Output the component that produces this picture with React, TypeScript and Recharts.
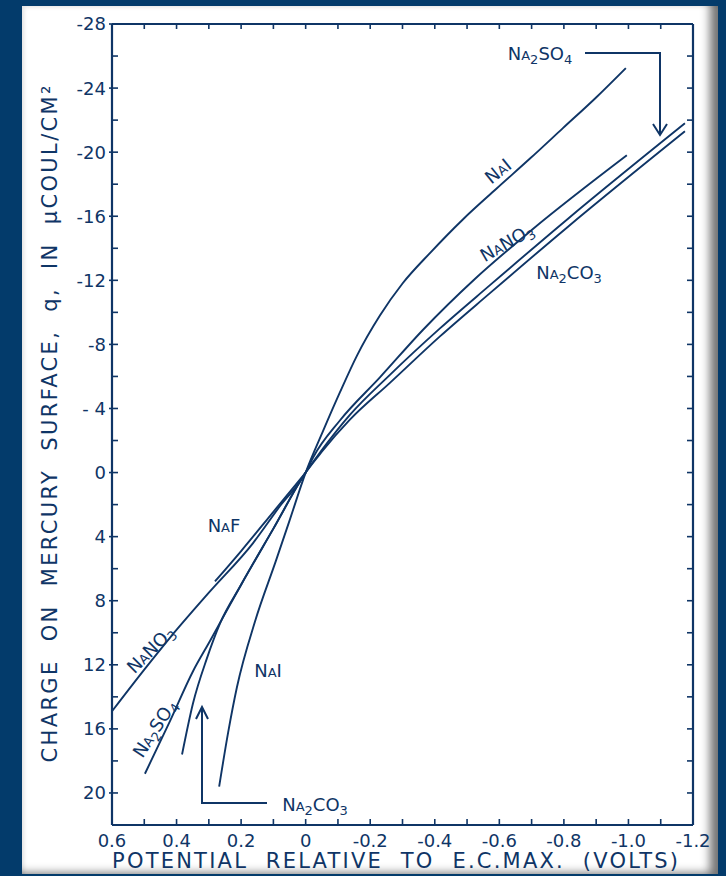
import { LineChart, Line, XAxis, YAxis } from 'recharts';

// potential (V vs e.c.max) and surface charge (µcoul/cm²)
const naI = [
  { v: 0.268, q: 19.6 }, { v: 0.24, q: 16.2 }, { v: 0.213, q: 13.4 }, { v: 0.157, q: 9.3 },
  { v: 0.092, q: 5.5 }, { v: 0.05, q: 3.0 }, { v: 0, q: 0 }, { v: -0.054, q: -2.6 },
  { v: -0.106, q: -5.0 }, { v: -0.159, q: -7.3 }, { v: -0.23, q: -9.8 }, { v: -0.3, q: -11.8 },
  { v: -0.385, q: -13.7 }, { v: -0.487, q: -15.8 }, { v: -0.59, q: -17.7 }, { v: -0.695, q: -19.6 },
  { v: -0.797, q: -21.5 }, { v: -0.899, q: -23.4 }, { v: -0.992, q: -25.25 },
];
const naNO3 = [
  { v: 0.6, q: 14.9 }, { v: 0.5, q: 12.3 }, { v: 0.42, q: 10.3 }, { v: 0.3, q: 7.5 },
  { v: 0.163, q: 4.4 }, { v: 0.08, q: 2.1 }, { v: 0, q: 0 }, { v: -0.023, q: -0.94 },
  { v: -0.106, q: -3.25 }, { v: -0.23, q: -5.94 }, { v: -0.363, q: -8.9 }, { v: -0.525, q: -12.1 },
  { v: -0.704, q: -15.2 }, { v: -0.995, q: -19.8 },
];
const na2SO4 = [
  { v: 0.498, q: 18.8 }, { v: 0.42, q: 15.5 }, { v: 0.349, q: 12.4 }, { v: 0.296, q: 10.5 },
  { v: 0.2, q: 7.0 }, { v: 0.1, q: 3.5 }, { v: 0, q: 0 }, { v: -0.05, q: -1.4 },
  { v: -0.137, q: -3.6 }, { v: -0.261, q: -6.1 }, { v: -0.416, q: -9.0 }, { v: -0.571, q: -11.7 },
  { v: -0.81, q: -15.8 }, { v: -1.175, q: -21.8 },
];
const na2CO3 = [
  { v: 0.383, q: 17.6 }, { v: 0.349, q: 14.4 }, { v: 0.306, q: 11.6 }, { v: 0.265, q: 9.4 },
  { v: 0.2, q: 7.0 }, { v: 0.1, q: 3.5 }, { v: 0, q: 0 }, { v: -0.05, q: -1.3 },
  { v: -0.137, q: -3.3 }, { v: -0.261, q: -5.6 }, { v: -0.416, q: -8.5 }, { v: -0.571, q: -11.2 },
  { v: -0.81, q: -15.3 }, { v: -1.175, q: -21.3 },
];
const naF = [
  { v: 0.281, q: 6.8 }, { v: 0.2, q: 4.9 }, { v: 0.1, q: 2.45 }, { v: 0, q: 0 },
];

const xTicks = [0.6, 0.5, 0.4, 0.3, 0.2, 0.1, 0, -0.1, -0.2, -0.3, -0.4, -0.5, -0.6, -0.7, -0.8, -0.9, -1.0, -1.1, -1.2];
const xLabelValues = [0.6, 0.4, 0.2, 0, -0.2, -0.4, -0.6, -0.8, -1.0, -1.2];
const xLabelTexts = ['0.6', '0.4', '0.2', '0', '-0.2', '-0.4', '-0.6', '-0.8', '-1.0', '-1.2'];

const yTicks = [-28, -26, -24, -22, -20, -18, -16, -14, -12, -10, -8, -6, -4, -2, 0, 2, 4, 6, 8, 10, 12, 14, 16, 18, 20];
const yLabelValues = [-28, -24, -20, -16, -12, -8, -4, 0, 4, 8, 12, 16, 20];
const yLabelTexts = ['-28', '-24', '-20', '-16', '-12', '-8', '- 4', '0', '4', '8', '12', '16', '20'];

const INK = '#0f3566';
const FONT = '"DejaVu Sans", sans-serif';

const findLabel = (values: number[], texts: string[], v: number) => {
  const i = values.findIndex((x) => Math.abs(x - v) < 1e-6);
  return i >= 0 ? texts[i] : null;
};

function BottomTick({ x, y, payload }: any) {
  const label = findLabel(xLabelValues, xLabelTexts, payload.value);
  return (
    <g>
      <line x1={x} x2={x} y1={y} y2={y - 6} stroke={INK} strokeWidth={1.6} />
      {label && (
        <text x={x} y={y + 22} textAnchor="middle" fontSize={18} fontFamily={FONT} fill={INK}>
          {label}
        </text>
      )}
    </g>
  );
}

function TopTick({ x, y }: any) {
  return <line x1={x} x2={x} y1={y} y2={y + 5} stroke={INK} strokeWidth={1.6} />;
}

function LeftTick({ x, y, payload }: any) {
  const label = findLabel(yLabelValues, yLabelTexts, payload.value);
  return (
    <g>
      <line x1={label ? x - 3 : x} x2={x + 6} y1={y} y2={y} stroke={INK} strokeWidth={1.6} />
      {label && (
        <text x={x - 6} y={y} dy="0.36em" textAnchor="end" fontSize={18} fontFamily={FONT} fill={INK}>
          {label}
        </text>
      )}
    </g>
  );
}

function RightTick({ x, y }: any) {
  return <line x1={x - 6} x2={x} y1={y} y2={y} stroke={INK} strokeWidth={1.6} />;
}

function Salt({ x, y, angle = 0, parts }: { x: number; y: number; angle?: number; parts: [string, 'b' | 's' | 'u'][] }) {
  return (
    <text transform={`translate(${x},${y}) rotate(${angle})`} textAnchor="middle" fontFamily={FONT} fill={INK}>
      {parts.map(([t, k], i) => (
        <tspan
          key={i}
          fontSize={k === 'b' ? 18 : 13}
          dy={k === 'u' ? 4 : i > 0 && parts[i - 1][1] === 'u' ? -4 : 0}
        >
          {t}
        </tspan>
      ))}
    </text>
  );
}

export default function App() {
  const lineProps = {
    type: 'monotone' as const,
    dataKey: 'q',
    stroke: INK,
    strokeWidth: 1.9,
    dot: false,
    isAnimationActive: false,
    xAxisId: 'b',
    yAxisId: 'l',
  };
  const axisLine = { stroke: INK, strokeWidth: 2.2 };
  return (
    <div style={{ position: 'fixed', left: 0, top: 0, width: 726, height: 876, background: '#033b6b', overflow: 'hidden' }}>
      <div
        style={{
          position: 'absolute', left: 22, top: 6, width: 696, height: 868, background: '#ffffff',
          boxShadow: 'inset -14px -7px 10px -6px rgba(0,0,0,0.55), inset 4px 3px 4px -2px rgba(0,0,0,0.12)',
        }}
      />
      <div style={{ position: 'absolute', left: 0, top: 0 }}>
        <LineChart width={726} height={876} margin={{ top: 23, right: 32, bottom: 50, left: 111 }}>
          <XAxis
            xAxisId="b" dataKey="v" type="number" domain={[-1.2, 0.6]} reversed allowDataOverflow
            ticks={xTicks} interval={0} height={1} tickSize={0} tickMargin={0} tick={<BottomTick />}
            axisLine={axisLine} tickLine={false}
          />
          <XAxis
            xAxisId="t" orientation="top" dataKey="v" type="number" domain={[-1.2, 0.6]} reversed allowDataOverflow
            ticks={xTicks} interval={0} height={1} tickSize={0} tickMargin={0} tick={<TopTick />}
            axisLine={axisLine} tickLine={false}
          />
          <YAxis
            yAxisId="l" type="number" domain={[-28, 22]} reversed allowDataOverflow
            ticks={yTicks} interval={0} width={1} tickSize={0} tickMargin={0} tick={<LeftTick />}
            axisLine={axisLine} tickLine={false}
          />
          <YAxis
            yAxisId="r" orientation="right" type="number" domain={[-28, 22]} reversed allowDataOverflow
            ticks={yTicks} interval={0} width={1} tickSize={0} tickMargin={0} tick={<RightTick />}
            axisLine={axisLine} tickLine={false}
          />
          <Line {...lineProps} data={naI} name="NaI" />
          <Line {...lineProps} data={naNO3} name="NaNO3" />
          <Line {...lineProps} data={na2SO4} name="Na2SO4" />
          <Line {...lineProps} data={na2CO3} name="Na2CO3" />
          <Line {...lineProps} data={naF} name="NaF" />
        </LineChart>
      </div>
      <svg width={726} height={876} style={{ position: 'absolute', left: 0, top: 0, pointerEvents: 'none' }}>
        <text
          transform="translate(57,424) rotate(-90)" textAnchor="middle" textLength={677} lengthAdjust="spacing"
          fontSize={21} fontFamily={FONT} fill={INK} style={{ whiteSpace: 'pre' }}
        >
          {'CHARGE  ON  MERCURY  SURFACE,  q,  IN  μCOUL/CM²'}
        </text>
        <text
          x={395} y={868} textAnchor="middle" textLength={566} lengthAdjust="spacing"
          fontSize={21} fontFamily={FONT} fill={INK} style={{ whiteSpace: 'pre' }}
        >
          {'POTENTIAL  RELATIVE  TO  E.C.MAX.  (VOLTS)'}
        </text>

        <Salt x={502} y={176} angle={-39} parts={[['N', 'b'], ['A', 's'], ['I', 'b']]} />
        <Salt x={510} y={248} angle={-30} parts={[['N', 'b'], ['A', 's'], ['NO', 'b'], ['3', 'u']]} />
        <Salt x={569} y={279} parts={[['N', 'b'], ['A', 's'], ['2', 'u'], ['CO', 'b'], ['3', 'u']]} />
        <Salt x={540} y={60} parts={[['N', 'b'], ['A', 's'], ['2', 'u'], ['SO', 'b'], ['4', 'u']]} />
        <Salt x={224} y={532} parts={[['N', 'b'], ['A', 's'], ['F', 'b']]} />
        <Salt x={155} y={654} angle={-45} parts={[['N', 'b'], ['A', 's'], ['NO', 'b'], ['3', 'u']]} />
        <Salt x={160} y={732} angle={-57} parts={[['N', 'b'], ['A', 's'], ['2', 'u'], ['SO', 'b'], ['4', 'u']]} />
        <Salt x={268} y={677} parts={[['N', 'b'], ['A', 's'], ['I', 'b']]} />
        <Salt x={315} y={811} parts={[['N', 'b'], ['A', 's'], ['2', 'u'], ['CO', 'b'], ['3', 'u']]} />

        <polyline points="585,53 660,53 660,135" fill="none" stroke={INK} strokeWidth={2} />
        <polyline points="653,124 660,135 667,124" fill="none" stroke={INK} strokeWidth={2} />
        <polyline points="267,803 202,803 202,708" fill="none" stroke={INK} strokeWidth={2} />
        <polyline points="196,719 202,707 208,719" fill="none" stroke={INK} strokeWidth={2} />
      </svg>
    </div>
  );
}
